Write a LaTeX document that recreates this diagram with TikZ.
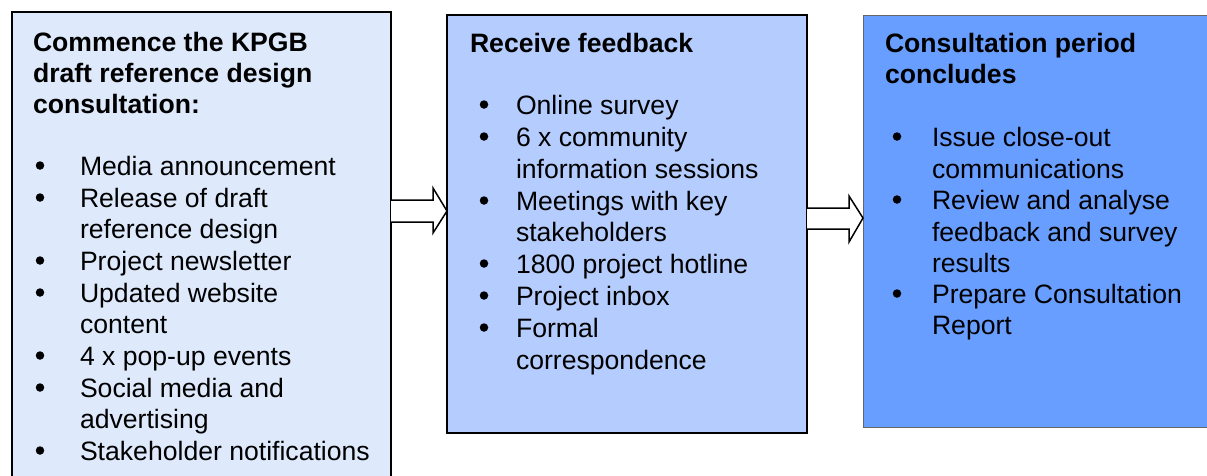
\documentclass[tikz,border=0pt]{standalone}
\usepackage{fontspec}
\setmainfont{Liberation Sans}
\usetikzlibrary{calc}
\definecolor{boxA}{RGB}{222,234,252}
\definecolor{boxB}{RGB}{180,204,254}
\definecolor{boxC}{RGB}{104,158,255}
\begin{document}
\begin{tikzpicture}[x=1pt,y=-1pt,
  every node/.style={inner sep=0pt,outer sep=0pt},
  panel/.style={draw=black,line width=2pt,anchor=north west},
  txt/.style={anchor=base west,font=\fontsize{26.6}{31}\selectfont},
  hd/.style={anchor=base west,font=\fontsize{26.6}{31}\selectfont\bfseries},
  dot/.style={circle,fill=black,minimum size=8.5pt},
  blockarrow/.style={draw=black,fill=white,line width=1.5pt,line join=miter}]
\useasboundingbox (0,0) rectangle (1207,475);
% panels
\node[panel,fill=boxA,minimum width=379pt,minimum height=490pt] (b1) at (12,12) {};
\node[panel,fill=boxB,minimum width=360pt,minimum height=418pt] (b2) at (447,15) {};
\node[panel,fill=boxC,draw=black!60,line width=1pt,minimum width=380pt,minimum height=412pt] (b3) at (863,15) {};
% block arrows
\draw[blockarrow] ($(b1.north east)+(0,188)$) -- ($(b2.north west)+(-14,185)$) -- ($(b2.north west)+(-14,173)$)
  -- ($(b2.north west)+(0,196)$) -- ($(b2.north west)+(-14,218)$) -- ($(b2.north west)+(-14,207)$)
  -- ($(b1.north east)+(0,210)$);
\draw[blockarrow] ($(b2.north east)+(0,193)$) -- ($(b3.north west)+(-14,193)$) -- ($(b3.north west)+(-14,181)$)
  -- ($(b3.north west)+(0,203)$) -- ($(b3.north west)+(-14,227)$) -- ($(b3.north west)+(-14,214)$)
  -- ($(b2.north east)+(0,214)$);
% panel 1 text
\foreach \y/\t [count=\i] in {51/Commence the KPGB,82/draft reference design,113/consultation:}
  \node[hd] (h1\i) at (33,\y) {\t};
\foreach \y/\t [count=\i] in {175/Media announcement,207/Release of draft,238/reference design,270/Project newsletter,302/Updated website,333/content,365/4 x pop-up events,397/Social media and,428/advertising,460/Stakeholder notifications}
  \node[txt] (l1\i) at (80,\y) {\t};
\foreach \y [count=\i] in {175,207,270,302,365,397,460}
  \node[dot] (d1\i) at (40,\y-9.5) {};
% panel 2 text
\node[hd] (h21) at (470,52) {Receive feedback};
\foreach \y/\t [count=\i] in {114/Online survey,146/6 x community,178/information sessions,210/Meetings with key,241/stakeholders,273/1800 project hotline,305/Project inbox,337/Formal,369/correspondence}
  \node[txt] (l2\i) at (516,\y) {\t};
\foreach \y [count=\i] in {114,146,210,273,305,337}
  \node[dot] (d2\i) at (484,\y-9.5) {};
% panel 3 text
\node[hd] (h31) at (885,52) {Consultation period};
\node[hd] (h32) at (885,83) {concludes};
\foreach \y/\t [count=\i] in {146/Issue close-out,178/communications,209/Review and analyse,241/feedback and survey,272/results,303/Prepare Consultation,334/Report}
  \node[txt] (l3\i) at (932,\y) {\t};
\foreach \y [count=\i] in {146,209,303}
  \node[dot] (d3\i) at (897,\y-9.5) {};
\end{tikzpicture}
\end{document}
